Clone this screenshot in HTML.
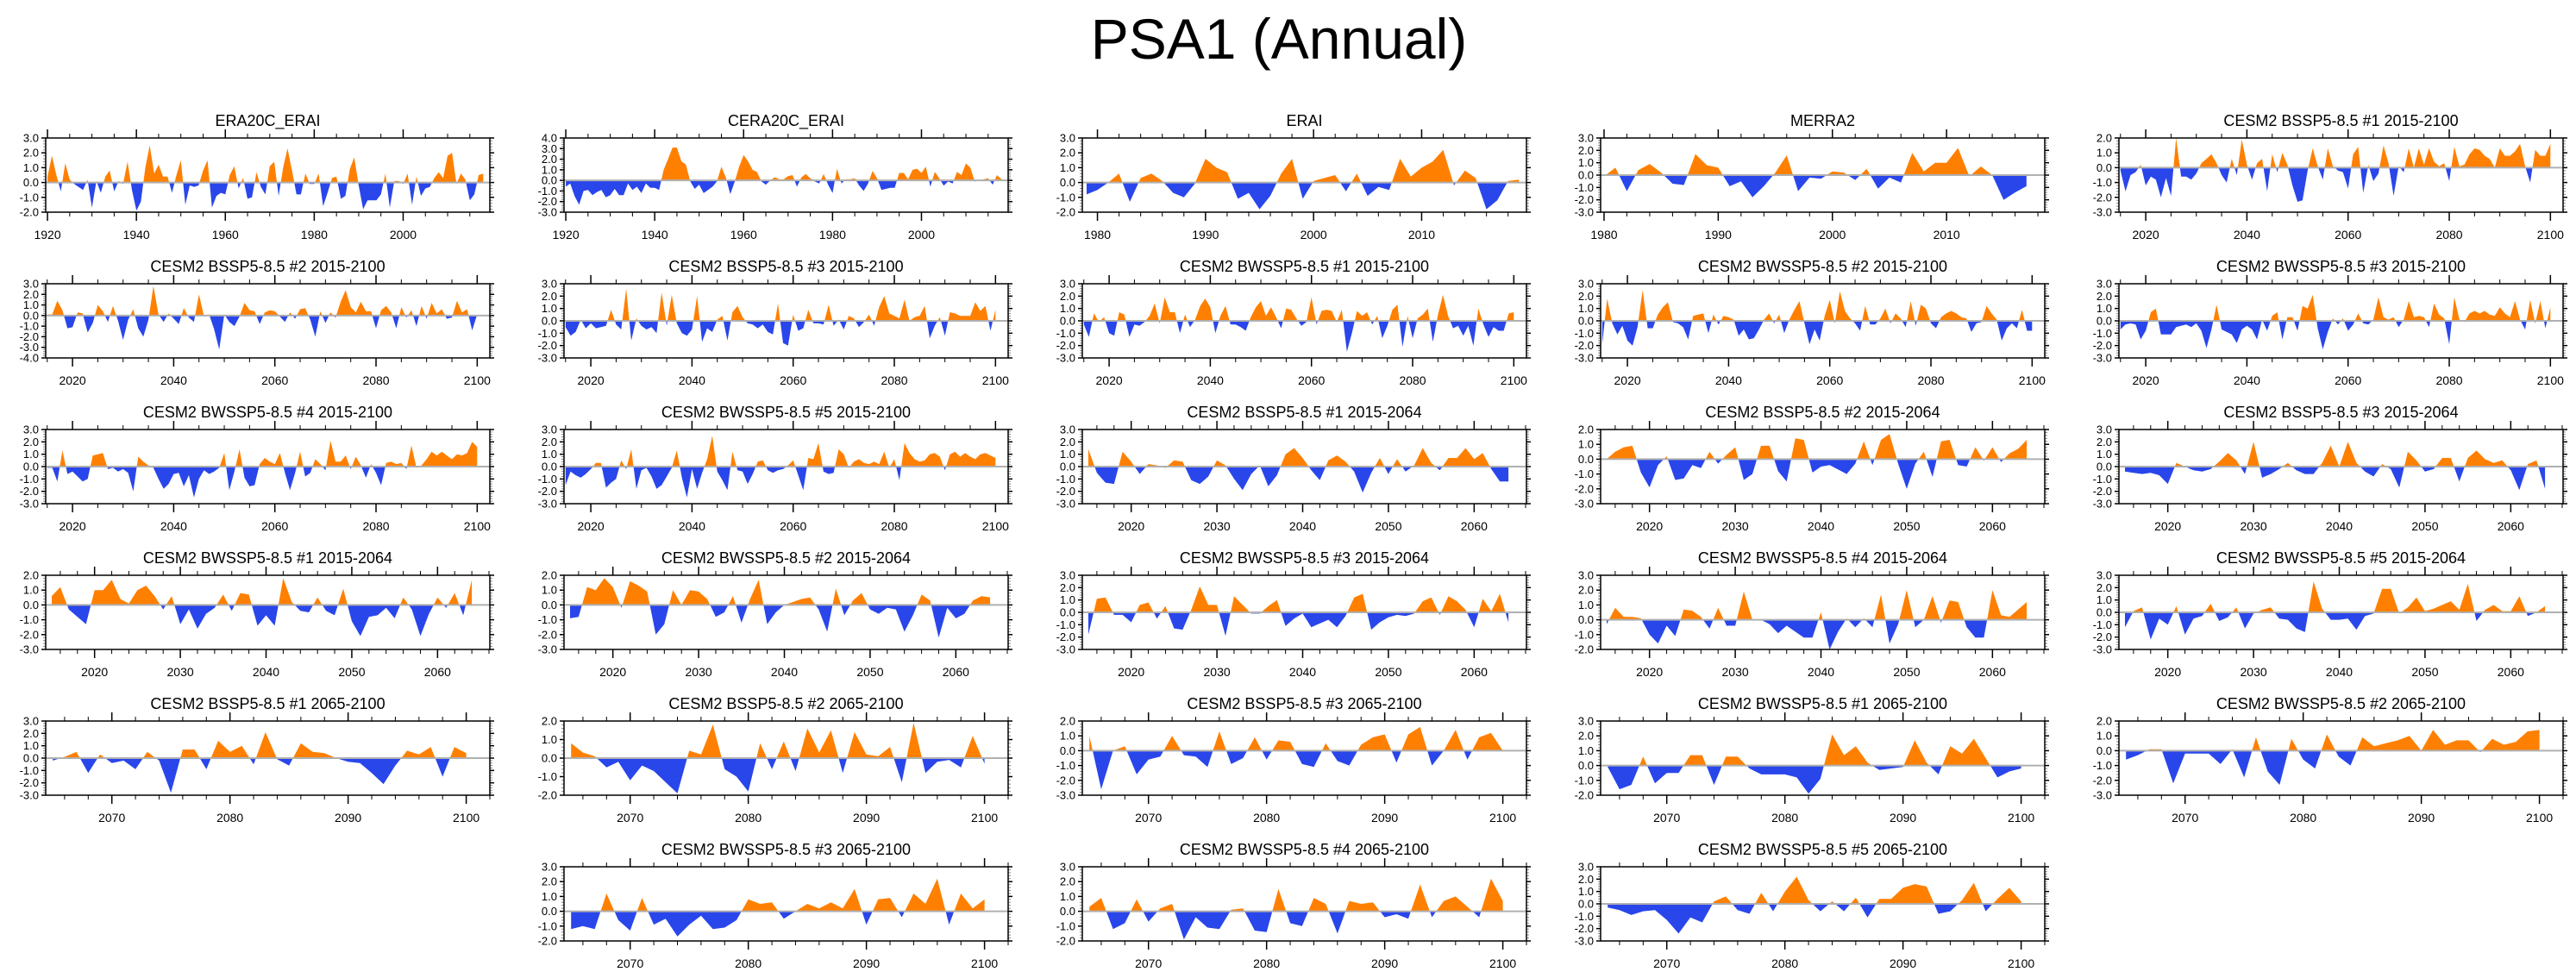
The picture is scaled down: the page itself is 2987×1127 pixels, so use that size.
<!DOCTYPE html>
<html><head><meta charset="utf-8"><style>
html,body{margin:0;padding:0;background:#fff;}
svg{display:block;font-family:"Liberation Sans",sans-serif;}
</style></head><body>
<svg id="chart" width="2987" height="1127" viewBox="0 0 2987 1127" xmlns="http://www.w3.org/2000/svg">
<text x="1483" y="68" text-anchor="middle" font-size="66">PSA1 (Annual)</text>
</svg>
<script>
const titles = ["ERA20C_ERAI","CERA20C_ERAI","ERAI","MERRA2","CESM2 BSSP5-8.5 #1 2015-2100",
"CESM2 BSSP5-8.5 #2 2015-2100","CESM2 BSSP5-8.5 #3 2015-2100","CESM2 BWSSP5-8.5 #1 2015-2100","CESM2 BWSSP5-8.5 #2 2015-2100","CESM2 BWSSP5-8.5 #3 2015-2100",
"CESM2 BWSSP5-8.5 #4 2015-2100","CESM2 BWSSP5-8.5 #5 2015-2100","CESM2 BSSP5-8.5 #1 2015-2064","CESM2 BSSP5-8.5 #2 2015-2064","CESM2 BSSP5-8.5 #3 2015-2064",
"CESM2 BWSSP5-8.5 #1 2015-2064","CESM2 BWSSP5-8.5 #2 2015-2064","CESM2 BWSSP5-8.5 #3 2015-2064","CESM2 BWSSP5-8.5 #4 2015-2064","CESM2 BWSSP5-8.5 #5 2015-2064",
"CESM2 BSSP5-8.5 #1 2065-2100","CESM2 BSSP5-8.5 #2 2065-2100","CESM2 BSSP5-8.5 #3 2065-2100","CESM2 BWSSP5-8.5 #1 2065-2100","CESM2 BWSSP5-8.5 #2 2065-2100",
"CESM2 BWSSP5-8.5 #3 2065-2100","CESM2 BWSSP5-8.5 #4 2065-2100","CESM2 BWSSP5-8.5 #5 2065-2100"];
const periods = ["c20","c20","erai","merra","f","f","f","f","f","f","f","f","h1","h1","h1","h1","h1","h1","h1","h1","h2","h2","h2","h2","h2","h2","h2","h2"];
const yMins = [-2,-3,-2,-3,-3, -4,-3,-3,-3,-3, -3,-3,-3,-3,-3, -3,-3,-3,-2,-3, -3,-2,-3,-2,-3, -2,-2,-3];
const yMaxs = [3,4,3,3,2, 3,3,3,3,3, 3,3,3,2,3, 2,2,3,3,3, 3,2,2,3,2, 3,3,3];
const s1 = [0.4,1.8,0.5,-0.6,1.3,0.2,-0.1,-0.3,-0.5,0.2,-1.7,0.1,-0.7,0.4,0.8,-0.6,0.1,-0.1,1.4,-0.5,-1.9,-1.3,1.0,2.5,0.6,1.2,0.4,0.4,-0.7,0.5,1.5,-1.5,-0.2,-0.3,-0.2,0.8,1.5,-1.7,-0.9,-0.7,-0.8,0.5,1.1,-0.4,0.3,-1.1,-1.0,0.7,-0.3,-0.8,1.1,1.4,-0.9,1.0,2.3,0.8,-0.8,-0.8,0.6,-0.1,-0.1,0.6,-1.6,-0.7,0.3,0.4,-1.1,-0.9,0.9,1.7,-0.2,-1.8,-1.2,-1.2,-1.2,-0.8,0.6,-1.7,0.1,0.1,-0.1,0.6,-1.5,0.4,-0.9,-0.4,-0.3,0.3,0.7,0.3,1.8,2.0,-0.1,0.6,0.2,-1.2,-0.8,0.5,0.6];
const s2 = [-0.6,-0.3,-1.5,-2.3,-1.0,-0.9,-1.4,-1.1,-0.9,-1.6,-1.4,-0.8,-1.4,-1.4,-0.3,-0.9,-0.6,-1.2,-0.3,-0.7,-0.7,-0.9,1.0,2.0,3.1,3.1,1.8,1.5,-0.1,-0.8,-0.4,-1.2,-0.9,-0.6,-0.1,1.3,0.3,-1.3,-0.1,1.3,2.4,1.8,1.0,0.8,-0.1,-0.4,0.0,0.3,0.1,0.1,0.4,0.5,-0.6,0.3,0.6,0.2,-0.1,-0.3,0.6,-0.4,-1.2,1.1,-0.3,0.1,0.1,0.2,-0.5,-1.0,-0.3,0.9,0.2,-0.9,-0.8,-0.7,-0.7,0.7,0.7,0.1,1.0,1.1,0.7,1.3,-0.6,0.8,0.2,-0.5,-0.1,-0.3,0.8,0.5,1.6,1.2,-0.1,0.0,0.1,0.2,-0.4,0.5,0.1];
const s3 = [-0.8,-0.5,0.0,0.6,-1.3,0.3,0.6,0.1,-0.7,-1.0,-0.1,1.6,1.0,0.7,-1.1,-0.7,-1.8,-0.9,0.6,1.6,-1.1,0.1,0.3,0.5,-0.6,0.6,-0.9,-0.3,-0.5,1.6,0.4,1.0,1.4,2.2,-0.2,0.8,0.3,-1.8,-1.2,0.1,0.2];
const s4 = [-0.1,0.6,-1.3,0.4,0.9,0.2,-0.7,-0.8,1.7,0.8,0.6,-0.9,-0.5,-1.8,-0.9,0.2,1.6,-1.3,-0.2,-0.3,0.3,0.2,-0.4,0.5,-1.1,-0.2,-0.6,1.8,0.3,1.0,1.0,2.2,-0.1,0.7,0.0,-2.0,-1.4,-0.9];
const s5 = [-0.2,-1.6,-0.5,-0.3,0.2,-1.2,-0.6,-0.8,-2.0,-0.7,-1.9,2.0,-0.6,-0.6,-0.8,-0.4,0.3,0.6,0.9,0.3,-0.5,-1.0,0.6,-0.5,1.9,0.2,-0.8,0.3,0.6,-1.6,0.9,-0.3,1.0,0.2,-1.2,-2.3,-2.2,-0.2,1.3,0.1,-0.8,1.3,0.1,-0.2,-0.3,-1.4,0.9,1.4,-1.7,0.2,-0.9,-0.4,1.5,0.3,-1.9,0.1,-0.3,1.3,0.0,1.3,0.2,1.3,0.4,0.1,0.3,-0.9,1.4,0.1,0.2,0.9,1.3,1.2,0.8,0.6,0.0,1.3,0.8,0.8,1.1,1.6,0.1,-1.0,1.2,0.8,0.8,1.6];
const s6 = [0.1,0.1,1.4,0.5,-1.2,-1.1,0.3,0.2,-1.6,-0.7,1.0,0.4,-0.6,0.9,-0.5,-2.3,-0.4,0.6,-1.2,-2.0,-0.4,2.8,0.1,-0.6,0.2,-0.3,-0.8,0.7,-0.2,-0.6,2.0,-0.1,0.1,-1.3,-3.2,0.1,-0.6,-1.0,-0.1,1.2,0.5,0.4,-0.8,0.3,0.5,0.4,-0.1,-0.6,0.3,-0.3,0.6,0.7,-0.4,-2.0,0.4,-0.7,0.3,-0.2,1.3,2.4,0.8,0.3,1.3,0.4,0.4,-1.2,0.5,0.9,0.3,-1.2,0.8,-0.2,0.5,-1.0,0.9,-0.3,1.2,0.2,0.6,-0.3,-0.2,1.4,0.3,0.6,-1.4,0.1];
const s7 = [-0.5,-1.2,-0.9,0.1,-0.6,-0.2,-0.6,-0.5,-0.4,0.9,-0.3,-0.7,2.6,-1.6,0.2,-0.4,-0.7,-0.5,-1.0,2.3,-0.4,2.1,-0.2,-1.0,-1.2,-0.7,2.0,-1.7,-0.6,-0.9,0.1,0.4,-1.6,0.7,1.2,0.3,-0.2,-0.3,-0.6,-0.3,-0.9,-1.1,1.4,-1.8,-2.0,0.5,-0.8,-0.6,0.9,-0.2,-0.2,-0.3,1.3,-0.4,0.1,-0.7,0.4,0.2,-0.5,-0.1,0.5,-0.4,1.1,2.0,0.6,0.4,0.2,1.7,0.0,0.3,0.4,1.2,-1.4,-0.4,0.3,-1.2,0.7,0.6,0.4,0.4,0.4,1.5,0.8,1.2,-0.8,0.9];
const s8 = [-0.3,-1.3,0.6,-0.1,0.3,-1.0,-1.2,0.7,0.5,-1.3,-0.3,-0.4,-0.1,0.4,1.4,-0.2,1.9,0.7,0.7,-1.0,0.5,-0.5,0.1,1.2,1.8,1.1,-1.0,0.4,1.2,-0.3,-0.3,-0.5,-0.8,0.3,1.1,1.6,0.4,1.1,0.3,-0.6,1.0,0.9,0.2,-0.4,-0.1,1.9,-0.3,0.8,0.9,0.8,-0.1,0.9,-2.5,-1.0,0.8,0.4,0.7,-0.3,0.4,-1.4,-0.4,0.9,1.3,-2.1,0.4,-1.4,0.2,0.5,1.0,-1.7,0.5,2.1,0.4,-0.6,-0.4,-1.2,-0.4,-2.0,1.0,-0.3,-1.3,-0.5,-0.8,-0.8,0.6,0.7];
const s9 = [-1.9,1.8,-0.2,-1.1,-0.4,-1.6,-2.0,-0.5,2.5,-0.6,-0.6,0.5,1.1,1.5,-0.1,-0.2,-0.5,-1.5,0.4,0.5,0.6,-1.0,0.5,-0.3,0.4,0.3,0.1,-1.2,-0.7,-1.5,-1.4,-0.7,0.1,0.6,-0.2,0.5,-1.0,0.1,0.9,1.6,-0.2,-1.9,-0.7,-1.6,0.4,1.7,-0.2,2.4,0.8,0.2,-0.2,-0.8,1.2,-0.3,-0.3,0.2,1.0,-0.2,0.6,0.2,-0.5,1.6,-0.4,1.3,1.0,-0.2,-0.6,0.3,0.6,0.8,0.6,0.3,0.2,-0.9,-0.2,-0.1,1.2,0.6,0.1,-1.6,-0.6,-0.2,-0.6,0.9,-0.8,-0.8];
const s10 = [-0.7,-0.3,-0.2,-0.3,-1.5,-0.8,0.7,1.0,-1.1,-1.1,-1.1,-0.5,-0.4,-0.3,-0.5,-0.2,-0.8,-2.2,-0.7,1.3,-0.7,-0.9,-1.1,-1.8,-0.7,-0.4,-0.7,-1.5,0.1,-0.8,0.4,0.7,-1.5,0.3,0.3,-0.8,1.2,1.0,2.1,-0.6,-2.3,-0.9,0.2,-0.3,0.2,-0.8,-0.3,0.6,-0.2,-0.3,0.1,1.9,0.3,0.1,0.3,-0.5,0.1,1.6,0.3,0.4,0.3,-0.5,1.4,0.5,0.2,-1.9,1.9,0.1,-0.1,0.6,0.8,0.6,0.8,0.5,0.4,1.1,0.6,0.3,1.6,0.1,-0.7,1.7,-0.2,1.6,-0.6,1.1];
const s11 = [-0.1,-0.1,-1.2,1.3,-0.6,-0.4,-0.8,-1.2,-1.0,0.9,1.0,1.1,-0.2,-0.1,-0.4,-0.2,-0.5,-2.0,0.8,0.4,0.1,-0.1,-1.0,-1.8,-1.4,-0.6,-0.5,-1.6,-0.7,-2.5,-1.0,-0.3,-0.6,-0.4,-0.1,1.1,-1.9,-0.4,1.4,-0.9,-1.6,-1.5,0.2,0.7,0.4,0.2,1.1,-0.5,-1.9,-0.5,1.2,-0.8,-0.5,0.6,0.2,-0.3,2.1,0.4,0.4,0.9,-0.2,0.8,0.1,-0.9,0.2,-0.5,-1.5,0.3,0.4,0.2,0.3,-0.2,1.7,-0.1,0.1,0.6,1.2,0.9,1.2,0.9,0.6,1.0,0.9,1.1,2.0,1.6];
const s12 = [-1.5,-0.4,-0.7,-0.9,-0.6,-0.2,0.3,0.3,-1.7,-1.3,-1.0,0.5,-0.2,1.4,-1.8,-0.3,-0.1,-0.8,-1.8,-1.5,-0.8,-0.1,1.3,-0.9,-2.5,-0.2,-1.8,-0.5,0.6,2.5,-0.4,-1.1,-1.9,1.2,-0.3,-0.4,-1.4,-0.6,0.4,0.5,-0.3,-0.5,-0.3,-0.2,0.1,0.5,-0.7,-1.9,0.7,0.6,1.9,-0.4,-0.6,-0.5,1.4,1.0,-0.1,0.4,0.6,0.3,0.2,0.4,0.2,1.2,-0.1,0.6,-1.1,1.9,1.1,0.6,0.4,0.5,1.0,1.1,0.8,-0.3,1.0,1.2,0.8,1.1,0.8,0.6,1.0,1.1,0.9,0.7];
const s13 = [1.4,-0.5,-1.3,-1.4,1.2,0.4,-0.6,0.2,0.1,-0.1,0.5,0.4,-1.1,-1.4,-0.8,0.5,0.1,-1.0,-1.9,-0.6,0.1,-1.6,-0.7,1.0,1.5,0.7,-0.3,-1.1,0.5,0.9,0.4,-0.4,-2.1,-0.5,0.7,-0.6,0.6,-0.4,0.1,1.5,0.3,-0.3,0.7,0.7,1.5,0.6,1.1,-0.2,-1.2,-1.2];
const s14 = [0.0,0.5,0.8,0.9,-0.9,-1.9,-0.4,0.2,-1.4,-1.3,-0.4,-0.6,0.5,-0.3,0.3,0.8,-1.4,-1.0,0.9,0.9,-0.8,-1.5,1.4,1.3,-0.9,-0.5,-0.4,-0.7,-1.0,-0.3,1.2,-0.4,1.3,1.7,-0.3,-2.0,-0.3,0.5,-1.2,1.2,1.3,-0.4,-0.5,0.8,-0.1,0.8,-0.2,0.4,0.7,1.3];
const s15 = [-0.4,-0.5,-0.6,-0.5,-0.7,-1.4,0.3,0.0,-0.3,-0.4,-0.2,0.4,1.1,0.5,-0.6,2.0,-0.9,-0.6,-0.2,0.3,-0.3,-0.6,-0.6,0.3,1.7,0.0,2.0,0.3,-0.4,-0.8,0.2,-0.2,-1.7,1.2,0.5,-0.4,-0.2,0.7,0.7,-1.2,0.7,1.3,0.6,0.3,0.5,-0.3,-1.9,0.2,0.5,-1.8];
const s16 = [0.6,1.2,-0.3,-0.8,-1.3,1.0,1.0,1.7,0.4,0.1,1.0,1.3,0.6,-0.3,0.6,-1.3,-0.3,-1.6,-0.6,-0.2,0.7,-0.4,0.8,0.7,-1.4,-0.7,-1.4,1.8,0.2,-0.4,-0.5,0.5,-0.4,-0.7,1.1,-1.1,-2.1,-0.8,-0.7,-0.2,-0.9,0.5,-0.3,-2.1,-0.6,0.5,-0.2,0.8,-0.7,1.7];
const s17 = [-0.9,-0.8,1.2,1.0,1.8,1.2,-0.2,1.6,1.3,0.9,-2.0,-1.3,1.0,0.0,1.0,0.9,0.4,-0.8,-0.5,0.6,-1.2,0.4,1.7,-1.3,-0.5,0.0,0.2,0.4,0.5,-0.3,-1.8,1.1,-0.7,0.3,0.8,-0.3,-0.6,-0.2,-0.3,-1.8,-0.7,0.7,0.3,-2.2,-0.2,-0.9,-0.6,0.3,0.6,0.5];
const s18 = [-1.8,1.1,1.2,-0.2,-0.2,-0.8,0.6,0.8,-0.5,0.5,-1.3,-1.4,0.2,2.1,0.6,0.6,-1.9,1.3,0.6,-0.1,-0.1,0.5,1.0,-1.1,-0.5,-0.1,-1.2,-0.9,-0.6,-1.2,-0.3,1.2,1.5,-1.4,-0.8,-0.4,-0.2,-0.3,-0.1,0.9,1.2,-0.2,1.3,0.9,0.2,-1.2,1.1,0.1,1.5,-0.8];
const s19 = [-0.3,0.8,0.2,0.2,0.1,-1.0,-1.6,-0.4,-1.1,0.7,0.6,0.2,-0.6,0.8,-0.4,-0.4,1.9,0.0,0.0,-0.3,-0.9,-0.4,-0.8,-1.2,-1.2,0.5,-2.0,-0.8,0.1,-0.5,0.1,-0.5,1.7,-1.6,-0.3,2.0,-0.5,0.0,1.6,-0.2,1.3,1.2,-0.5,-1.2,-1.2,2.0,0.3,0.2,0.7,1.2];
const s20 = [-1.2,0.1,0.4,-2.2,-0.5,-1.0,0.5,-1.8,-0.5,-0.3,0.7,-0.7,-0.4,0.4,-1.3,-0.1,0.2,0.4,-0.5,-0.6,-1.3,-1.6,2.5,0.3,-0.6,-0.6,-0.5,-1.4,-0.3,-0.1,1.9,1.9,-0.1,0.4,1.2,0.1,0.3,0.6,0.9,0.2,2.3,-0.7,0.2,0.6,0.1,0.1,1.3,-0.3,0.0,0.5];
const s21 = [-0.2,0.1,0.5,-1.2,0.3,-0.4,-0.2,-0.9,0.5,-0.2,-2.8,0.7,0.7,-0.9,1.4,0.5,1.0,-0.5,2.1,-0.1,-0.6,1.2,0.5,0.4,0.0,-0.3,-0.4,-1.2,-2.1,-0.6,0.6,0.3,0.9,-1.5,0.9,0.4];
const s22 = [0.8,0.3,0.1,-0.5,-0.2,-1.2,-0.4,-0.7,-1.3,-1.9,0.4,0.2,1.8,-0.6,-1.0,-1.8,0.8,-0.6,0.9,-0.7,1.6,0.3,1.5,-0.8,1.4,0.2,0.1,0.6,-1.3,1.9,-0.8,-0.2,-0.1,-0.5,1.2,-0.3];
const s23 = [1.0,-2.6,0.0,0.3,-1.6,-0.6,-0.4,1.0,-0.3,-0.4,-1.1,1.3,-0.9,-0.5,0.9,-0.6,0.7,0.6,-0.9,-1.1,0.5,-0.7,-1.0,0.4,0.9,1.1,-0.8,1.1,1.6,-1.0,0.0,1.4,-0.6,0.9,1.2,0.0];
const s24 = [-0.1,-1.6,-1.3,0.6,-1.2,-0.5,-0.5,0.7,0.7,-1.3,0.6,0.6,-0.2,-0.6,-0.6,-0.6,-0.8,-1.9,-0.9,2.1,0.7,1.3,0.2,-0.3,-0.2,-0.1,1.7,0.2,-0.6,1.3,0.8,1.8,0.5,-0.8,-0.4,-0.2];
const s25 = [-0.6,-0.3,0.1,0.1,-2.2,-0.2,-0.2,-0.2,-0.9,0.1,-1.8,0.9,-1.4,-2.3,0.8,-0.6,-1.2,1.1,-0.4,-1.0,0.9,0.3,0.5,0.7,1.0,0.0,1.4,0.4,0.7,0.7,-0.1,0.8,0.4,0.6,1.3,1.4];
const s26 = [-1.2,-1.0,-1.2,1.2,-0.6,-1.3,0.9,-0.9,-0.5,-1.7,-0.9,-0.3,-1.2,-1.1,-0.6,0.8,0.5,0.6,-0.5,0.0,0.5,0.2,0.6,0.2,1.5,-0.9,0.8,0.9,-0.4,1.2,0.5,2.2,-0.9,1.2,0.2,0.8];
const s27 = [0.3,0.9,-1.2,-0.8,0.8,-0.7,0.2,0.5,-1.9,-0.4,-1.1,-1.2,0.1,0.2,-1.3,-1.4,1.5,-0.8,-1.0,0.9,0.5,-1.5,0.7,0.5,0.6,-0.4,-0.2,-0.5,1.8,-0.4,0.7,1.0,0.3,-0.4,2.2,0.7];
const s28 = [-0.3,-0.5,-0.9,-0.6,-0.5,-1.3,-2.4,-1.1,-1.5,0.2,0.6,-0.5,-0.8,0.9,-0.6,1.0,2.2,0.3,-0.6,0.2,-0.6,0.5,-1.1,0.4,0.4,1.3,1.6,1.4,-0.8,-0.6,0.3,1.7,-0.6,0.4,1.3,0.2];
const series = [s1,s2,s3,s4,s5,s6,s7,s8,s9,s10,s11,s12,s13,s14,s15,s16,s17,s18,s19,s20,s21,s22,s23,s24,s25,s26,s27,s28];

const PER = {
  c20:{start:1920,d0:1919.6,d1:2019.5,m0:1920,m1:2000,ms:20,ns:5},
  erai:{start:1979,d0:1978.6,d1:2019.7,m0:1980,m1:2010,ms:10,ns:2},
  merra:{start:1980,d0:1979.7,d1:2018.6,m0:1980,m1:2010,ms:10,ns:2},
  f:{start:2015,d0:2014.7,d1:2102.5,m0:2020,m1:2100,ms:20,ns:5},
  h1:{start:2015,d0:2014.3,d1:2066.1,m0:2020,m1:2060,ms:10,ns:2},
  h2:{start:2065,d0:2064.4,d1:2102.0,m0:2070,m1:2100,ms:10,ns:2}
};
const colX=[53,654,1255,1856,2457], rowY=[160,329,498,667,836,1005], W=515, H=86;
const slots=[];
for(let r=0;r<5;r++)for(let c=0;c<5;c++)slots.push([c,r]);
slots.push([1,5],[2,5],[3,5]);
const NS="http://www.w3.org/2000/svg";
const svg=document.getElementById('chart');
function mk(tag,attrs,parent){const e=document.createElementNS(NS,tag);for(const k in attrs)e.setAttribute(k,attrs[k]);(parent||svg).appendChild(e);return e;}

series.forEach((data,i)=>{
  const [c,r]=slots[i]; const X0=colX[c], Y0=rowY[r];
  const P=PER[periods[i]], ymin=yMins[i], ymax=yMaxs[i];
  const xs=yr=>X0+(yr-P.d0)/(P.d1-P.d0)*W;
  const ys=v=>Y0+(ymax-v)/(ymax-ymin)*H;
  const g=mk('g',{});
  
  
  const t=mk('text',{x:X0+W/2,y:Y0-14,'text-anchor':'middle','font-size':18},g);
  
  
  t.textContent=titles[i];
  const z=ys(0);
  let pts=[[xs(P.start),z]];
  data.forEach((v,k)=>pts.push([xs(P.start+k),ys(v)]));
  pts.push([xs(P.start+data.length-1),z]);
  const ptsStr=pts.map(p=>p[0].toFixed(1)+','+p[1].toFixed(1)).join(' ');
  const idA='ca'+i, idB='cb'+i;
  const defs=mk('defs',{},g);
  const ca=mk('clipPath',{id:idA},defs); mk('rect',{x:X0,y:Y0,width:W,height:z-Y0},ca);
  const cb=mk('clipPath',{id:idB},defs); mk('rect',{x:X0,y:z,width:W,height:Y0+H-z},cb);
  const pos=mk('polygon',{points:ptsStr,fill:'#ff8000','clip-path':'url(#'+idA+')'},g);
  
  
  const neg=mk('polygon',{points:ptsStr,fill:'#2946eb','clip-path':'url(#'+idB+')'},g);
  
  
  const zl=mk('line',{x1:X0,x2:X0+W,y1:z,y2:z,stroke:'#b0b0b0','stroke-width':2},g);
  
  
  const nMinor=Math.round((ymax-ymin)/0.2);
  for(let k=0;k<=nMinor;k++){
    const v=ymin+k*0.2, y=ys(v), major=Math.abs(v-Math.round(v))<1e-6;
    const len=major?5:3, col=major?'#000':'#888';
    mk('line',{x1:X0-len,x2:X0,y1:y,y2:y,stroke:col,'stroke-width':major?1.5:1},g);
    mk('line',{x1:X0+W,x2:X0+W+len,y1:y,y2:y,stroke:col,'stroke-width':major?1.5:1},g);
    if(major){
      const lb=mk('text',{x:X0-8,y:y+4.5,'text-anchor':'end','font-size':13},g);
      
      
      lb.textContent=v.toFixed(1);
    }
  }
  for(let yr=Math.ceil(P.d0);yr<=P.d1;yr++){
    if((yr-P.m0)%P.ns!==0)continue;
    const x=xs(yr), major=(yr-P.m0)%P.ms===0&&yr>=P.m0&&yr<=P.m1;
    const len=major?10:5;
    mk('line',{x1:x,x2:x,y1:Y0+H,y2:Y0+H+len,stroke:'#000','stroke-width':major?1.5:1},g);
    mk('line',{x1:x,x2:x,y1:Y0-len,y2:Y0,stroke:'#000','stroke-width':major?1.5:1},g);
    if(major){
      const lb=mk('text',{x:x,y:Y0+H+31,'text-anchor':'middle','font-size':14},g);
      
      
      lb.textContent=yr;
    }
  }
  const box=mk('rect',{x:X0,y:Y0,width:W,height:H,fill:'none',stroke:'#000','stroke-width':1.5},g);
  
  
});
</script>
</body></html>
